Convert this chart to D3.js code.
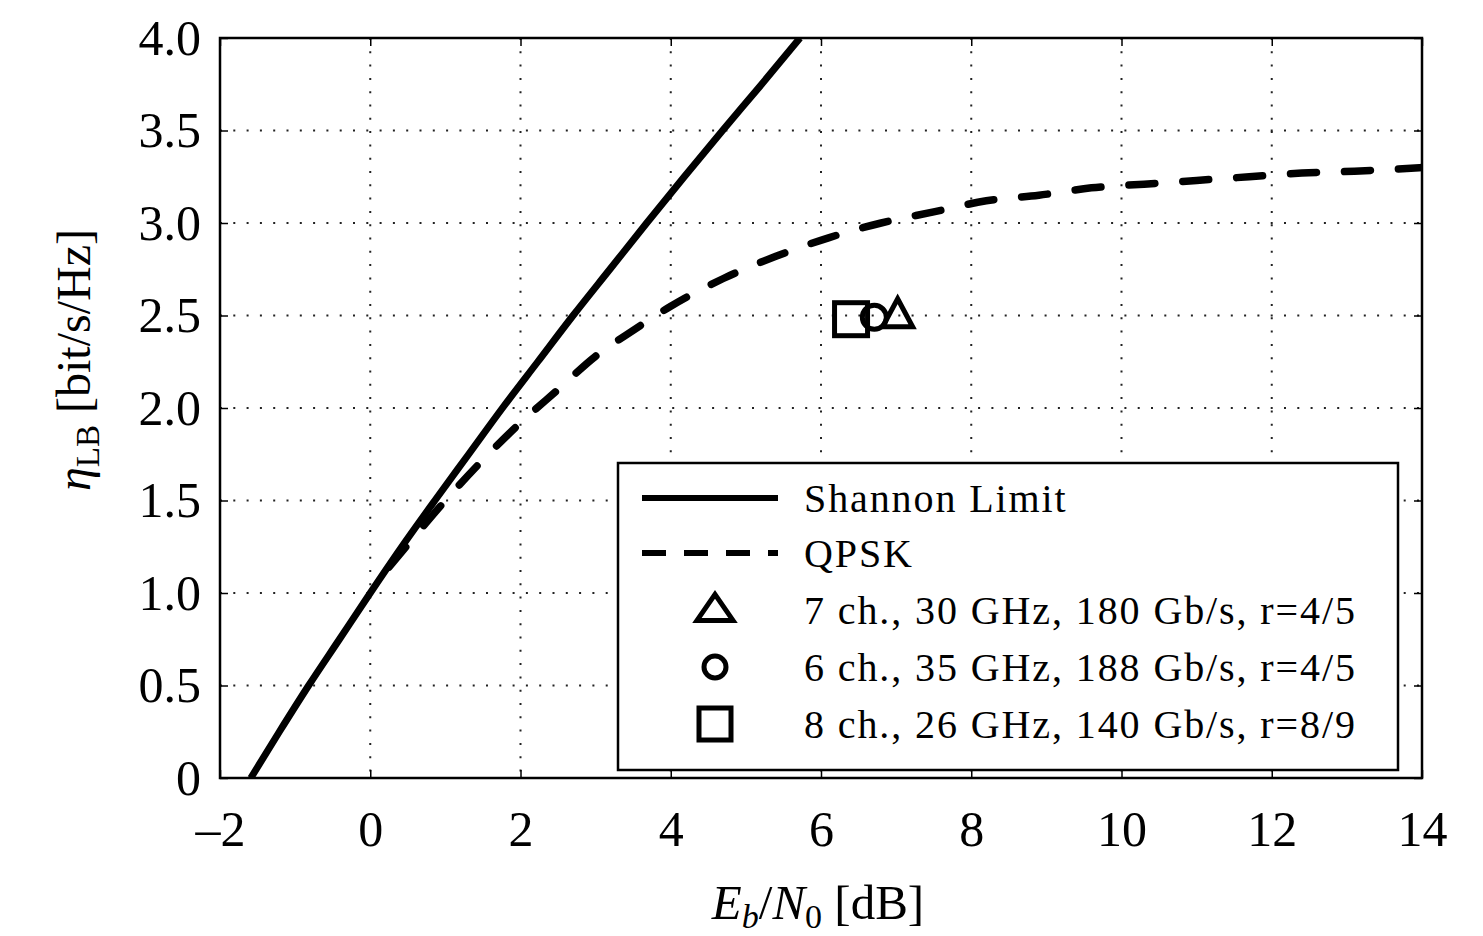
<!DOCTYPE html>
<html>
<head>
<meta charset="utf-8">
<script src="https://cdn.jsdelivr.net/npm/d3@7"></script>
<style>
  body { margin: 0; background: #fff; }
  text { font-family: "Liberation Serif", "DejaVu Serif", serif; fill: #000; }
</style>
</head>
<body>
<div id="chart"></div>
<script>
// Shannon limit: [Eb/N0 dB, eta]
const shannon = [[-1.59, 0], [-1.21, 0.25], [-0.82, 0.5], [-0.41, 0.75], [0, 1], [0.42, 1.25],
  [0.86, 1.5], [1.31, 1.75], [1.76, 2.0], [2.23, 2.25], [2.70, 2.5], [3.19, 2.75], [3.68, 3.0],
  [4.18, 3.25], [4.69, 3.5], [5.21, 3.75], [5.72, 4.0]]
// QPSK curve
const qpsk = [[0.25, 1.14], [0.6, 1.31], [1.0, 1.50], [1.5, 1.72], [2.0, 1.92], [2.5, 2.10],
  [3.0, 2.28], [3.5, 2.42], [4.0, 2.55], [4.7, 2.70], [5.4, 2.82], [6.1, 2.92], [6.8, 3.00],
  [7.5, 3.06], [8.2, 3.12], [8.9, 3.15], [9.6, 3.19], [10.3, 3.21], [11.0, 3.23], [11.7, 3.25],
  [12.4, 3.27], [13.1, 3.28], [14.0, 3.30]]
// measured points
const measured = [
  { shape: 'triangle', x: 7.02, y: 2.50, label: '7 ch., 30 GHz, 180 Gb/s, r=4/5' },
  { shape: 'circle', x: 6.71, y: 2.49, label: '6 ch., 35 GHz, 188 Gb/s, r=4/5' },
  { shape: 'square', x: 6.40, y: 2.48, label: '8 ch., 26 GHz, 140 Gb/s, r=8/9' }
]
const xTicks = [-2, 0, 2, 4, 6, 8, 10, 12, 14]
const yTicks = [0, 0.5, 1, 1.5, 2, 2.5, 3, 3.5, 4]

const width = 1483, height = 936
const margin = { top: 38, right: 61, bottom: 158, left: 220 }
const w = width - margin.left - margin.right
const h = height - margin.top - margin.bottom

const svg = d3.select('#chart').append('svg')
  .attr('width', width).attr('height', height)
const g = svg.append('g').attr('transform', `translate(${margin.left},${margin.top})`)

const x = d3.scaleLinear().domain([-2, 14]).range([0, w])
const y = d3.scaleLinear().domain([0, 4]).range([h, 0])

// dotted grid
g.append('g').selectAll('line').data(xTicks.slice(1, -1)).join('line')
  .attr('x1', d => x(d)).attr('x2', d => x(d)).attr('y1', 0).attr('y2', h)
  .attr('stroke', '#222').attr('stroke-width', 2).attr('stroke-dasharray', '2,11.3')
g.append('g').selectAll('line').data(yTicks.slice(1, -1)).join('line')
  .attr('y1', d => y(d)).attr('y2', d => y(d)).attr('x1', 0).attr('x2', w)
  .attr('stroke', '#222').attr('stroke-width', 2).attr('stroke-dasharray', '2,11.3')

// axes with inward ticks on all four sides
const fmtY = d => d === 0 ? '0' : d3.format('.1f')(d)
const fmtX = d => d < 0 ? '–' + Math.abs(d) : String(d)
const axB = g.append('g').attr('transform', `translate(0,${h})`)
  .call(d3.axisBottom(x).tickValues(xTicks).tickSize(-8).tickPadding(50).tickFormat(fmtX))
const axL = g.append('g')
  .call(d3.axisLeft(y).tickValues(yTicks).tickSize(-8).tickPadding(19).tickFormat(fmtY))
const axT = g.append('g')
  .call(d3.axisTop(x).tickValues(xTicks).tickSize(-8).tickFormat(''))
const axR = g.append('g').attr('transform', `translate(${w},0)`)
  .call(d3.axisRight(y).tickValues(yTicks).tickSize(-8).tickFormat(''))
;[axB, axL, axT, axR].forEach(a => {
  a.select('.domain').remove()
  a.selectAll('.tick line').attr('stroke', '#000').attr('stroke-width', 1.5)
})
axB.selectAll('.tick text').style('font-family', '"Liberation Serif", serif').attr('font-size', 50).attr('dy', '0.35em')
axL.selectAll('.tick text').style('font-family', '"Liberation Serif", serif').attr('font-size', 50)

// curves
const clip = svg.append('defs').append('clipPath').attr('id', 'plotclip')
clip.append('rect').attr('width', w).attr('height', h)
const line = d3.line().x(d => x(d[0])).y(d => y(d[1])).curve(d3.curveMonotoneX)
const curves = g.append('g').attr('clip-path', 'url(#plotclip)')
curves.append('path').datum(shannon).attr('d', line)
  .attr('fill', 'none').attr('stroke', '#000').attr('stroke-width', 7)
curves.append('path').datum(qpsk).attr('d', line)
  .attr('fill', 'none').attr('stroke', '#000').attr('stroke-width', 7.5)
  .attr('stroke-linecap', 'round').attr('stroke-dasharray', '26,28')

// markers
function drawMarker(sel, shape, cx, cy, s) {
  if (shape === 'square') {
    sel.append('rect').attr('x', cx - s.sq / 2).attr('y', cy - s.sq / 2)
      .attr('width', s.sq).attr('height', s.sq)
  } else if (shape === 'circle') {
    sel.append('circle').attr('cx', cx).attr('cy', cy).attr('r', s.r)
  } else {
    const tw = s.tw, th = s.th
    sel.append('path').attr('d', `M${cx},${cy - th * 0.6}L${cx + tw / 2},${cy + th * 0.4}L${cx - tw / 2},${cy + th * 0.4}Z`)
  }
}
const markG = g.append('g').attr('fill', 'none').attr('stroke', '#000').attr('stroke-width', 5)
  .attr('stroke-linejoin', 'miter')
measured.slice().reverse().forEach(m => drawMarker(markG, m.shape, x(m.x), y(m.y), { sq: 33, r: 12, tw: 30, th: 28 }))

// legend
const lg = svg.append('g').attr('transform', 'translate(618,463)')
lg.append('rect').attr('width', 780).attr('height', 307)
  .attr('fill', '#fff').attr('stroke', '#000').attr('stroke-width', 2.5)
const rowY = [35, 90, 147, 204, 261]
const legendText = ['Shannon Limit', 'QPSK'].concat(measured.map(m => m.label))
lg.append('line').attr('x1', 24).attr('x2', 160).attr('y1', rowY[0]).attr('y2', rowY[0])
  .attr('stroke', '#000').attr('stroke-width', 6)
lg.append('line').attr('x1', 24).attr('x2', 160).attr('y1', rowY[1]).attr('y2', rowY[1])
  .attr('stroke', '#000').attr('stroke-width', 6).attr('stroke-dasharray', '24,18')
const lm = lg.append('g').attr('fill', 'none').attr('stroke', '#000').attr('stroke-width', 5)
measured.forEach((m, i) => drawMarker(lm, m.shape, 97, rowY[i + 2], { sq: 32, r: 11, tw: 36, th: 26 }))
lg.selectAll('text.lt').data(legendText).join('text').attr('class', 'lt')
  .attr('x', 186).attr('y', (d, i) => rowY[i]).attr('dy', '0.35em')
  .attr('font-size', 40).attr('letter-spacing', 1.9).text(d => d)

// axis labels
const xl = svg.append('text').attr('x', 818).attr('y', 919).attr('text-anchor', 'middle').attr('font-size', 49)
xl.append('tspan').attr('font-style', 'italic').text('E')
xl.append('tspan').attr('font-style', 'italic').attr('font-size', 34).attr('dy', 9).text('b')
xl.append('tspan').attr('dy', -9).text('/')
xl.append('tspan').attr('font-style', 'italic').text('N')
xl.append('tspan').attr('font-size', 34).attr('dy', 9).text('0')
xl.append('tspan').attr('dy', -9).text(' [dB]')

const yl = svg.append('text').attr('transform', 'translate(90,360) rotate(-90)')
  .attr('text-anchor', 'middle').attr('font-size', 48)
yl.append('tspan').attr('font-style', 'italic').text('η')
yl.append('tspan').attr('font-size', 33).attr('dy', 9).text('LB')
yl.append('tspan').attr('dy', -9).text(' [bit/s/Hz]')

// frame
g.append('rect').attr('width', w).attr('height', h)
  .attr('fill', 'none').attr('stroke', '#000').attr('stroke-width', 2.5)
</script>
</body>
</html>
